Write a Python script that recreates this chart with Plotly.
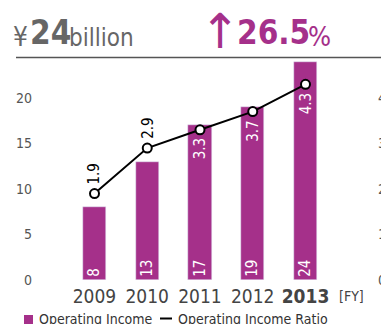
import plotly.graph_objects as go

years = ['2009', '2010', '2011', '2012', '2013']
income = [8, 13, 17, 19, 24]          # billion yen
ratio = [1.9, 2.9, 3.3, 3.7, 4.3]     # %
series_names = ['Operating Income', 'Operating Income Ratio']

PURPLE = '#a5308a'
GRAY = '#666666'
FONT = 'Liberation Sans Narrow, DejaVu Sans Condensed, Arial Narrow, sans-serif'

W, H = 381, 324
ML, MR, MT, MB = 36, 9, 57, 44
PW = W - ML - MR
PH = H - MT - MB


def px_x(px):  # pixel -> paper x
    return (px - ML) / PW


def px_y(py):  # pixel -> paper y
    return (H - MB - py) / PH


xs = list(range(len(years)))
ticktext = years[:-1] + ['<b>' + years[-1] + '</b>']

fig = go.Figure()
fig.add_trace(go.Bar(
    x=xs, y=income, name=series_names[0],
    marker_color=PURPLE, width=0.44,
    text=[str(v) for v in income], textposition='inside',
    insidetextanchor='start', textangle=-90, constraintext='none',
    textfont=dict(color='white', size=15, family=FONT),
))
fig.add_trace(go.Scatter(
    x=xs, y=ratio, name=series_names[1], yaxis='y2',
    mode='lines+markers', line=dict(color='black', width=2),
    marker=dict(size=9, color='white', line=dict(color='black', width=2)),
))

# rotated labels on the ratio line
for i, v in enumerate(ratio):
    above = i < 2
    fig.add_annotation(
        x=xs[i], y=v, xref='x', yref='y2', text=f'{v}', showarrow=False,
        textangle=-90, yanchor='bottom' if above else 'top',
        yshift=7 if above else -7,
        font=dict(size=15, family=FONT, color='black' if above else 'white'),
    )

# headline
heads = [
    (12, 53, 'left', '¥', 26, GRAY, FONT),
    (29, 53, 'left', '<b>24</b>', 33, GRAY, FONT),
    (68, 53, 'left', 'billion', 24, GRAY, FONT),
    (220, 60, 'center', '↑', 48, PURPLE, 'DejaVu Sans'),
    (236, 53, 'left', '<b>26.5</b>', 33, PURPLE, FONT),
    (307, 53, 'left', '%', 27, PURPLE, FONT),
]
for px, py, anchor, txt, size, col, fam in heads:
    fig.add_annotation(x=px_x(px), y=px_y(py), xref='paper', yref='paper', text=txt,
                       showarrow=False, xanchor=anchor, yanchor='bottom', borderpad=0,
                       font=dict(size=size, family=fam, color=col))
fig.add_shape(type='line', xref='paper', yref='paper',
              x0=px_x(16), x1=px_x(381), y0=px_y(57.5), y1=px_y(57.5),
              line=dict(color='#555555', width=1.5))

fig.add_annotation(x=px_x(351), y=px_y(296), xref='paper', yref='paper', text='[FY]',
                   showarrow=False, xanchor='center', yanchor='middle',
                   font=dict(size=14, family=FONT, color='#444444'))

# legend, drawn by hand to get the short key marks of the original
fig.add_shape(type='rect', xref='paper', yref='paper',
              x0=px_x(24), x1=px_x(33), y0=px_y(315), y1=px_y(326),
              fillcolor=PURPLE, line_width=0)
fig.add_shape(type='line', xref='paper', yref='paper',
              x0=px_x(160), x1=px_x(172), y0=px_y(318.5), y1=px_y(318.5),
              line=dict(color='black', width=2))
for px, name in [(37, series_names[0]), (176, series_names[1])]:
    fig.add_annotation(x=px_x(px), y=px_y(319), xref='paper', yref='paper', text=name,
                       showarrow=False, xanchor='left', yanchor='middle',
                       font=dict(size=14, family=FONT, color='#333333'))

unit = 52.75
fig.update_layout(
    width=W, height=H,
    margin=dict(l=ML, r=MR, t=MT, b=MB, autoexpand=False),
    plot_bgcolor='white', paper_bgcolor='white',
    font=dict(family=FONT, color='#555555'),
    bargap=0,
    showlegend=False,
    xaxis=dict(
        tickvals=xs, ticktext=ticktext,
        range=[-(94.5 - ML) / unit, 4 + (W - MR - 305.5) / unit],
        showgrid=False, zeroline=False, showline=False,
        tickfont=dict(size=19, color='#444444', family=FONT),
        ticklabelstandoff=3,
    ),
    yaxis=dict(
        range=[0, 24.5], tickvals=[0, 5, 10, 15, 20],
        showgrid=False, zeroline=False, showline=False,
        tickfont=dict(size=14, color='#555555', family=FONT),
        ticklabelstandoff=3,
    ),
    yaxis2=dict(
        range=[0, 4.9], tickvals=[0, 1, 2, 3, 4], overlaying='y', side='right',
        showgrid=False, zeroline=False, showline=False,
        tickfont=dict(size=14, color='#555555', family=FONT),
        ticklabelstandoff=5,
    ),
)

# the page body has an 8px default margin; drop it so the figure sits at 0,0
fig.write_html('out.html', config={'displayModeBar': False},
               post_script="document.body.style.margin='0';")
